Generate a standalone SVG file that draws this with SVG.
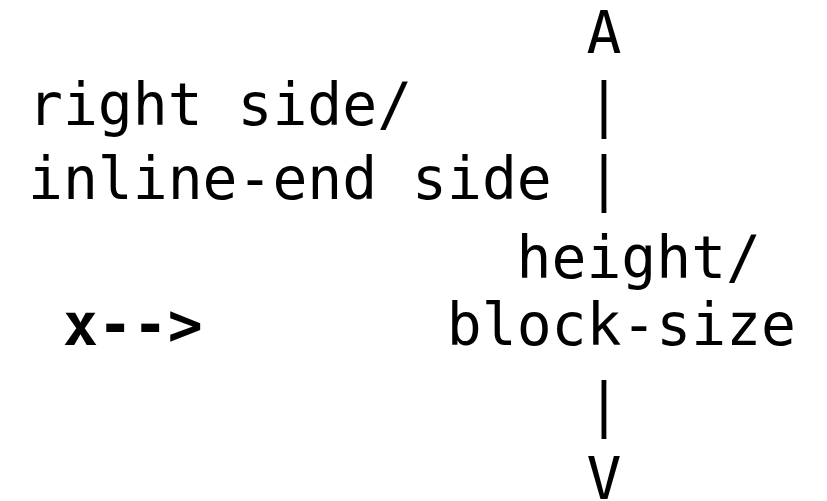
<svg xmlns="http://www.w3.org/2000/svg" width="827" height="501" viewBox="0 0 827 501">
<style>
text{font-family:"DejaVu Sans Mono","Liberation Mono",monospace;font-size:58px;fill:#000}
.b{font-weight:bold}
</style>
<rect width="827" height="501" fill="#fff"/>
<g id="vertical-arrow">
<text x="586.6" y="53">A</text>
<text x="586.6" y="125">|</text>
<text x="586.6" y="199">|</text>
<text x="586.6" y="425">|</text>
<text x="586.6" y="499">V</text>
</g>
<g id="side-label">
<text x="28" y="125">right side/</text>
<text x="28" y="199">inline-end side</text>
</g>
<g id="size-label">
<text x="516.6" y="278">height/</text>
<text x="446.8" y="345">block-size</text>
</g>
<g id="x-arrow">
<text class="b" x="62.9" y="345">x--&gt;</text>
</g>
</svg>
